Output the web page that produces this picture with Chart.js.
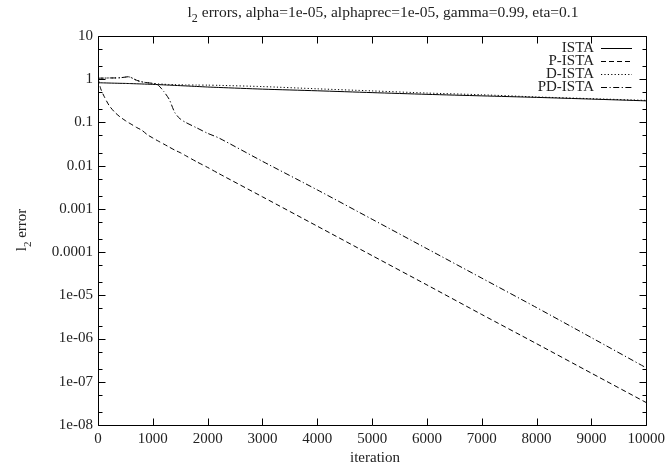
<!DOCTYPE html>
<html><head><meta charset="utf-8">
<script src="https://cdn.jsdelivr.net/npm/chart.js@4/dist/chart.umd.min.js"></script>
<style>html,body{margin:0;padding:0;background:#fff;}canvas{display:block;}</style>
</head><body>
<canvas id="c" width="670" height="470"></canvas>
<script>
// ---- data ----
const titleRest = ' errors, alpha=1e-05, alphaprec=1e-05, gamma=0.99, eta=0.1';
const xAxisTitle = 'iteration';
const yAxisTitleRest = ' error';
const seriesNames = ['ISTA', 'P-ISTA', 'D-ISTA', 'PD-ISTA'];
const iterations = [0, 50, 100, 200, 300, 400, 500, 550, 600, 700, 800, 900, 1000, 1100, 1200, 1300, 1400, 1500, 1600, 1800, 2000, 2200, 3000, 4000, 5000, 6000, 7000, 8000, 9000, 10000];
const ista   = [0.83, 0.826, 0.823, 0.816, 0.81, 0.804, 0.80, 0.796, 0.792, 0.784, 0.776, 0.768, 0.76, 0.75, 0.74, 0.73, 0.72, 0.71, 0.70, 0.68, 0.66, 0.645, 0.59, 0.54, 0.49, 0.447, 0.412, 0.38, 0.347, 0.316];
const pIsta  = [1.05, 0.6, 0.43, 0.25, 0.175, 0.135, 0.11, 0.10, 0.092, 0.077, 0.066, 0.052, 0.0437, 0.037, 0.0316, 0.0269, 0.0229, 0.02, 0.017, 0.0123, 0.0091, 0.0066, 1.9e-3, 3.98e-4, 8.3e-5, 1.74e-5, 3.6e-6, 7.6e-7, 1.58e-7, 3.3e-8];
const dIsta  = [1.05, 1.06, 1.06, 1.07, 1.07, 1.08, 1.12, 1.14, 1.10, 0.95, 0.87, 0.83, 0.80, 0.78, 0.765, 0.755, 0.748, 0.742, 0.738, 0.733, 0.73, 0.722, 0.676, 0.60, 0.537, 0.479, 0.437, 0.389, 0.355, 0.324];
const pdIsta = [1.05, 1.06, 1.06, 1.07, 1.07, 1.08, 1.12, 1.14, 1.10, 0.95, 0.87, 0.83, 0.80, 0.72, 0.52, 0.34, 0.17, 0.12, 0.10, 0.075, 0.056, 0.044, 0.0126, 2.75e-3, 5.75e-4, 1.2e-4, 2.5e-5, 5.2e-6, 1.05e-6, 2.1e-7];
const xTickValues = [0, 1000, 2000, 3000, 4000, 5000, 6000, 7000, 8000, 9000, 10000];
const yTickValues = [1e-8, 1e-7, 1e-6, 1e-5, 1e-4, 1e-3, 1e-2, 0.1, 1, 10];
const yTickLabels = ['1e-08', '1e-07', '1e-06', '1e-05', '0.0001', '0.001', '0.01', '0.1', '1', '10'];
const yMinorFactors = [2, 5];

// ---- styles ----
const FONT = '"Liberation Serif", "DejaVu Serif", serif';
const FS = 15;
const TXT = '#222';
const dashes = [[], [5, 3], [1.2, 2.2], [6, 2.5, 1.2, 2.5]];

const seriesValues = [ista, pIsta, dIsta, pdIsta];
const datasets = seriesNames.map((name, i) => ({
  label: name,
  data: iterations.map((it, k) => ({x: it, y: seriesValues[i][k]})),
  borderColor: '#000',
  borderWidth: 1,
  borderDash: dashes[i],
  pointRadius: 0,
  tension: 0.25,
  fill: false
}));

function drawSub(ctx, x, y, base, rest, size, align) {
  ctx.font = size + 'px ' + FONT;
  const wL = ctx.measureText(base).width;
  const sub = Math.round(size * 0.75);
  ctx.font = sub + 'px ' + FONT;
  const w2 = ctx.measureText('2').width;
  ctx.font = size + 'px ' + FONT;
  const wR = ctx.measureText(rest).width;
  const total = wL + w2 + wR;
  const sx = align === 'center' ? x - total / 2 : x;
  ctx.textAlign = 'left';
  ctx.textBaseline = 'middle';
  ctx.fillText(base, sx, y);
  ctx.font = sub + 'px ' + FONT;
  ctx.fillText('2', sx + wL, y + size * 0.35);
  ctx.font = size + 'px ' + FONT;
  ctx.fillText(rest, sx + wL + w2, y);
}

const framePlugin = {
  id: 'frame',
  afterDatasetsDraw(chart) {
    const ctx = chart.ctx, a = chart.chartArea;
    const xs = chart.scales.x, ys = chart.scales.y;
    ctx.save();
    ctx.strokeStyle = '#000';
    ctx.lineWidth = 1;
    ctx.setLineDash([]);
    const L = Math.round(a.left) + 0.5, R = Math.round(a.right) + 0.5;
    const T = Math.round(a.top) + 0.5, B = Math.round(a.bottom) + 0.5;
    ctx.beginPath();
    ctx.rect(L, T, R - L, B - T);
    xTickValues.forEach(v => {
      const p = Math.round(xs.getPixelForValue(v)) + 0.5;
      ctx.moveTo(p, B); ctx.lineTo(p, B - 7);
      ctx.moveTo(p, T); ctx.lineTo(p, T + 7);
    });
    yTickValues.forEach((v, i) => {
      const p = Math.round(ys.getPixelForValue(v)) + 0.5;
      ctx.moveTo(L, p); ctx.lineTo(L + 7, p);
      ctx.moveTo(R, p); ctx.lineTo(R - 7, p);
      if (i < yTickValues.length - 1) {
        yMinorFactors.forEach(f => {
          const q = Math.round(ys.getPixelForValue(v * f)) + 0.5;
          ctx.moveTo(L, q); ctx.lineTo(L + 4, q);
          ctx.moveTo(R, q); ctx.lineTo(R - 4, q);
        });
      }
    });
    ctx.stroke();

    // legend
    ctx.font = FS + 'px ' + FONT;
    ctx.fillStyle = TXT;
    ctx.textAlign = 'right';
    ctx.textBaseline = 'middle';
    chart.data.datasets.forEach((ds, i) => {
      const y = 47.7 + i * 13;
      ctx.fillText(ds.label, 594, y);
      ctx.beginPath();
      ctx.setLineDash(ds.borderDash);
      ctx.moveTo(601, Math.round(y) + 0.5);
      ctx.lineTo(632, Math.round(y) + 0.5);
      ctx.stroke();
    });
    ctx.setLineDash([]);

    // titles
    ctx.fillStyle = TXT;
    drawSub(ctx, 383, 13, 'l', titleRest, 15.5, 'center');
    ctx.font = FS + 'px ' + FONT;
    ctx.textAlign = 'center';
    ctx.textBaseline = 'middle';
    ctx.fillText(xAxisTitle, 375, 458);
    ctx.save();
    ctx.translate(22.5, 230);
    ctx.rotate(-Math.PI / 2);
    drawSub(ctx, 0, 0, 'l', yAxisTitleRest, FS, 'center');
    ctx.restore();
    ctx.restore();
  }
};

new Chart(document.getElementById('c'), {
  type: 'line',
  data: {datasets},
  options: {
    responsive: false,
    animation: false,
    layout: {padding: {left: 0, top: 36, right: 23, bottom: 0}},
    plugins: {legend: {display: false}, tooltip: {enabled: false}, title: {display: false}},
    scales: {
      x: {
        type: 'linear', min: 0, max: 10000,
        grid: {display: false, drawTicks: false},
        border: {display: false},
        afterBuildTicks: s => { s.ticks = xTickValues.map(v => ({value: v})); },
        afterFit: s => { s.height = 45; },
        ticks: {
          callback: v => String(v),
          font: {family: FONT, size: FS}, color: TXT, padding: 5, maxRotation: 0, autoSkip: false
        }
      },
      y: {
        type: 'logarithmic', min: 1e-8, max: 10,
        grid: {display: false, drawTicks: false},
        border: {display: false},
        afterBuildTicks: s => { s.ticks = yTickValues.map(v => ({value: v})); },
        afterFit: s => { s.width = 98; },
        ticks: {
          callback: (v, i) => yTickLabels[i],
          font: {family: FONT, size: FS}, color: TXT, padding: 5, autoSkip: false
        }
      }
    }
  },
  plugins: [framePlugin]
});
</script>
</body></html>
